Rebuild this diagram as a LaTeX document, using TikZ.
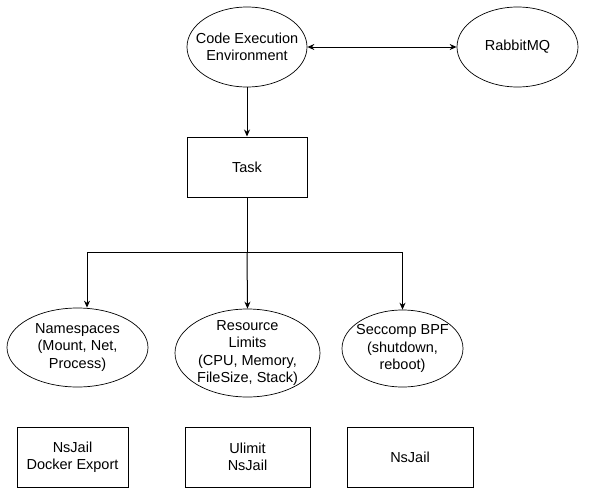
\documentclass[tikz,border=0pt]{standalone}
\usepackage{fontspec}
\setmainfont{Liberation Sans}
\usetikzlibrary{shapes.geometric,arrows.meta}
\tikzset{
    lbl/.style={align=center, font=\fontsize{14.5}{17.4}\selectfont},
    oval/.style={lbl, draw, ellipse, line width=0.7pt, inner sep=-30pt},
    box/.style={lbl, draw, rectangle, line width=1pt, minimum height=60pt, inner sep=0pt},
    tip/.style={-{Stealth[length=7pt,width=6pt]}, line width=1pt},
    twotip/.style={{Stealth[length=7pt,width=6pt]}-{Stealth[length=7pt,width=6pt]}, line width=1pt}
}
\begin{document}
\begin{tikzpicture}[x=1pt,y=-1pt]
        \useasboundingbox (0,0) rectangle (592,501);

        \node[oval, minimum width=120pt, minimum height=80pt] (cee) at (247,47) {Code Execution\\Environment};
        \node[oval, minimum width=121pt, minimum height=80pt] (rmq) at (517.5,47) {RabbitMQ};
        \node[box, minimum width=120pt] (task) at (247,167) {Task};

        \node[oval, minimum width=141pt, minimum height=79pt] (ns) at (77.5,347.5) {Namespaces\\(Mount, Net,\\Process)};
        \node[oval, minimum width=145pt, minimum height=88pt] (rl) at (247.5,353) {Resource\\Limits\\(CPU, Memory,\\FileSize, Stack)};
        \node[oval, minimum width=121pt, minimum height=77pt] (bpf) at (402.5,348.5) {Seccomp BPF\\(shutdown,\\reboot)};

        \node[box, minimum width=111pt] (dock) at (72.5,457) {NsJail\\Docker Export};
        \node[box, minimum width=125pt] (ulim) at (247.5,457) {Ulimit\\NsJail};
        \node[box, minimum width=126pt] (jail) at (410,457) {NsJail};

        \coordinate (split) at (247,252);

        \draw[twotip] (cee.east) -- (rmq.west);
        \draw[tip] (cee.south) -- (task.north);
        \draw[line width=1pt] (task.south) -- (split);
        \draw[tip] (split) -| ([xshift=9.5pt]ns.north);
        \draw[tip] (split) -- (rl.north);
        \draw[tip] (split) -| (bpf.north);
    \end{tikzpicture}
\end{document}
